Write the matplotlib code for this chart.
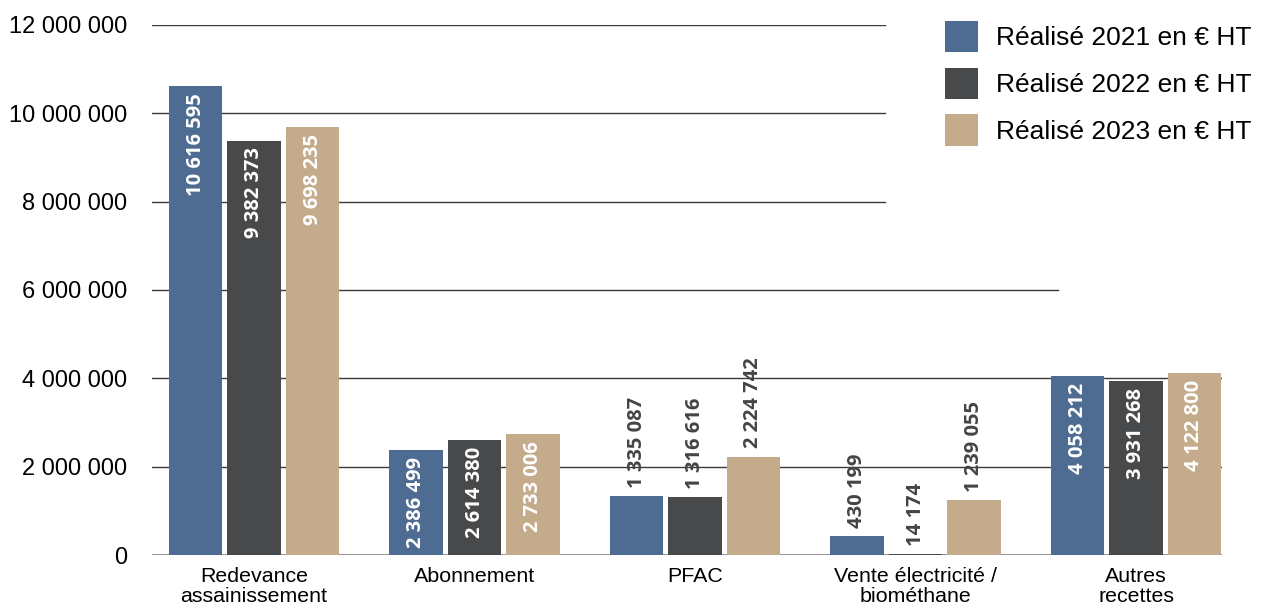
import numpy as np
import matplotlib.pyplot as plt

# data
categories = ['Redevance\nassainissement', 'Abonnement', 'PFAC',
              'Vente électricité /\nbiométhane', 'Autres\nrecettes']
real_2021 = [10616595, 2386499, 1335087, 430199, 4058212]
real_2022 = [9382373, 2614380, 1316616, 14174, 3931268]
real_2023 = [9698235, 2733006, 2224742, 1239055, 4122800]
series_names = ['Réalisé 2021 en € HT', 'Réalisé 2022 en € HT', 'Réalisé 2023 en € HT']
colors = ['#4e6b91', '#48494b', '#c4ab8c']
yticks = [0, 2000000, 4000000, 6000000, 8000000, 10000000, 12000000]


def fmt(v):
    return f'{v:,}'.replace(',', ' ')


fig = plt.figure(figsize=(12.64, 6.09), dpi=100)
ax = fig.add_axes([152/1264, 1-555/609, (1222-152)/1264, (555-25)/609])

x = np.arange(len(categories))
step = 0.265
width = 0.242
series = [real_2021, real_2022, real_2023]

# gridlines (partly hidden behind the legend area in the original)
grid_ends = {2000000: 1.0, 4000000: 1.0, 6000000: 0.847,
             8000000: 0.685, 10000000: 0.685, 12000000: 0.685}
for y, xe in grid_ends.items():
    ax.axhline(y, xmin=0, xmax=xe, color='#3a3a3a', lw=1.0, zorder=0)
ax.axhline(0, color='#8a8a8a', lw=2.0, zorder=0)

for i, (vals, col, name) in enumerate(zip(series, colors, series_names)):
    b = ax.bar(x + (i-1)*step, vals, width, color=col, label=name, zorder=2)
    for rect, v in zip(b, vals):
        cx = rect.get_x() + rect.get_width()/2
        if v > 2300000:
            ax.annotate(fmt(v), (cx, v), xytext=(0, -5), textcoords='offset points',
                        rotation=90, ha='center', va='top', color='white',
                        fontsize=14.5, fontweight='bold', family='Open Sans', zorder=3)
        else:
            ax.annotate(fmt(v), (cx, v), xytext=(0, 6), textcoords='offset points',
                        rotation=90, ha='center', va='bottom', color='#444444',
                        fontsize=14.5, fontweight='bold', family='Open Sans', zorder=3)

ax.set_xlim(-0.463, 4.39)
ax.set_ylim(0, 12000000)
ax.set_yticks(yticks)
ax.set_yticklabels([fmt(v) for v in yticks], fontsize=17, family='Liberation Sans')
ax.set_xticks(x)
ax.set_xticklabels(categories, fontsize=15.4, family='Liberation Sans', linespacing=1.0)
ax.tick_params(axis='y', length=0, pad=18)
ax.tick_params(axis='x', length=0, pad=9)
for s in ax.spines.values():
    s.set_visible(False)

leg = fig.legend(loc='upper left', bbox_to_anchor=(945/1264, 1-21/609), frameon=False,
                 prop={'family': 'Liberation Sans', 'size': 19}, borderpad=0,
                 borderaxespad=0, handlelength=1.25, handleheight=1.45,
                 handletextpad=0.7, labelspacing=0.58)

fig.savefig('out.png', dpi=100)
